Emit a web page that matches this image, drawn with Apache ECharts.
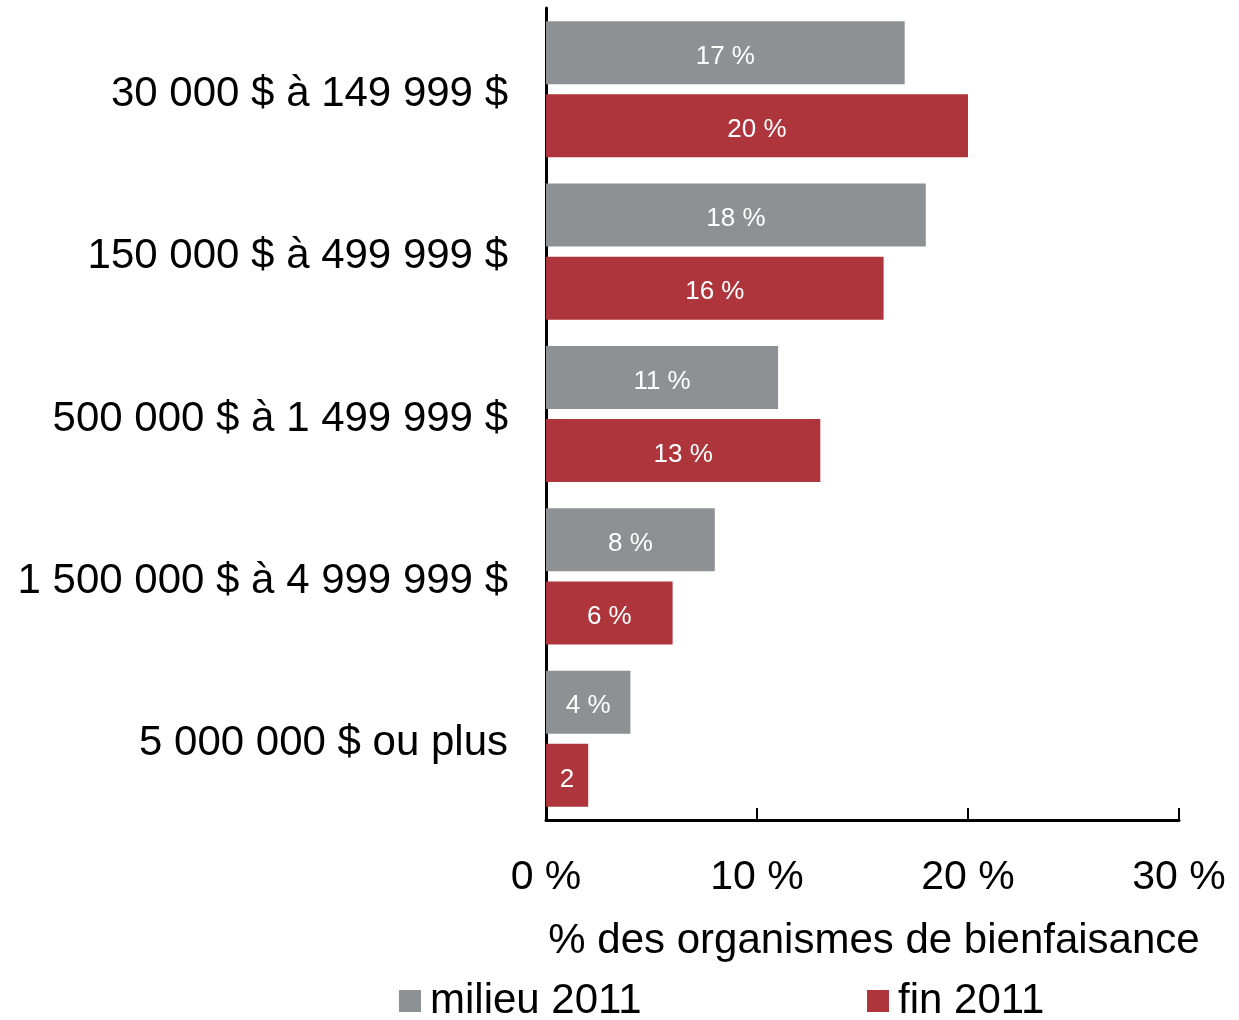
<!DOCTYPE html>
<html lang="fr">
<head>
<meta charset="UTF-8">
<title>Organismes de bienfaisance</title>
<script src="https://cdn.jsdelivr.net/npm/echarts@6/dist/echarts.min.js"></script>
<style>
  html, body { margin: 0; padding: 0; background: #fff; }
  #chart { width: 1239px; height: 1020px; }
</style>
</head>
<body>
<div id="chart"></div>
<script>
    // tranches de revenus
    var categories = ['30 000 $ à 149 999 $', '150 000 $ à 499 999 $', '500 000 $ à 1 499 999 $',
        '1 500 000 $ à 4 999 999 $', '5 000 000 $ ou plus'];
    var milieu2011 = [17, 18, 11, 8, 4];
    var fin2011 = [20, 16, 13, 6, 2];
    var xTicks = [0, 10, 20, 30];

    var font = 'Liberation Sans, Arial, Helvetica, sans-serif';

    function barLabel(p) {
        // the small bar only shows the number (label is cut off)
        return p.value >= 3 ? p.value + ' %' : String(p.value);
    }

    var chart = echarts.init(document.getElementById('chart'));
    chart.setOption({
        animation: false,
        textStyle: { fontFamily: font },
        grid: { left: 546, right: 60, top: 8, bottom: 200, containLabel: false },
        legend: [
            { data: ['milieu 2011'], left: 394, top: 975, itemWidth: 22, itemHeight: 22, itemGap: 0,
              icon: 'rect', textStyle: { fontSize: 42, color: '#000', fontFamily: font, padding: [0, 0, 0, 4] } },
            { data: ['fin 2011'], left: 862, top: 975, itemWidth: 22, itemHeight: 22, itemGap: 0,
              icon: 'rect', textStyle: { fontSize: 42, color: '#000', fontFamily: font, padding: [0, 0, 0, 4] } }
        ],
        xAxis: {
            type: 'value',
            min: xTicks[0],
            max: xTicks[xTicks.length - 1],
            interval: 10,
            name: '% des organismes de bienfaisance',
            nameLocation: 'middle',
            nameGap: 100,
            nameTextStyle: { fontSize: 42, color: '#000', fontFamily: font, padding: [0, 0, 0, 23] },
            axisLine: { show: true, lineStyle: { color: '#000', width: 3 } },
            axisTick: { show: true, inside: true, length: 12, lineStyle: { color: '#000', width: 2 } },
            axisLabel: { fontSize: 41, color: '#000', margin: 37, formatter: '{value} %' },
            splitLine: { show: false }
        },
        yAxis: {
            type: 'category',
            data: categories,
            inverse: true,
            axisLine: { show: true, lineStyle: { color: '#000', width: 3 } },
            axisTick: { show: false },
            axisLabel: {
                fontSize: 42, color: '#000', margin: 38,
                formatter: function (v) { return '{c|' + v + '}'; },
                rich: { c: { fontSize: 42, color: '#000', fontFamily: font, padding: [10, 0, 0, 0] } }
            }
        },
        series: [
            {
                name: 'milieu 2011',
                type: 'bar',
                data: milieu2011,
                barWidth: 63,
                barGap: '16%',
                itemStyle: { color: '#8E9194' },
                label: { show: true, position: 'inside', color: '#fff', fontSize: 26, offset: [0, 4], formatter: barLabel }
            },
            {
                name: 'fin 2011',
                type: 'bar',
                data: fin2011,
                barWidth: 63,
                barGap: '16%',
                itemStyle: { color: '#AD353B' },
                label: { show: true, position: 'inside', color: '#fff', fontSize: 26, offset: [0, 4], formatter: barLabel }
            }
        ]
    });
</script>
</body>
</html>
